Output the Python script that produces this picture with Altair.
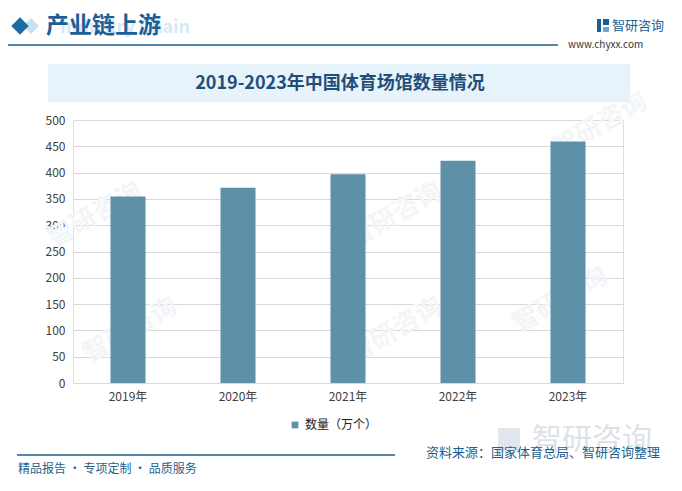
import altair as alt
import pandas as pd

# ---- data ----
years = ["2019年", "2020年", "2021年", "2022年", "2023年"]
values = [354.4, 371.3, 397.1, 422.7, 459.3]
series_name = "数量（万个）"
y_ticks = [0, 50, 100, 150, 200, 250, 300, 350, 400, 450, 500]

title_text = "2019-2023年中国体育场馆数量情况"
header_text = "产业链上游"
header_en = "Industry Chain"
source_text = "资料来源：国家体育总局、智研咨询整理"
footer_text = "精品报告 · 专项定制 · 品质服务"
brand = "智研咨询"
site = "www.chyxx.com"

df = pd.DataFrame({"year": years, "value": values, "series": [series_name] * len(years)})

FONT = "Noto Sans CJK SC"
BAR = "#5e90a8"
DARK = "#1f5f8f"
OX, OY = 73, 120  # plot origin on page
W, H = 550, 263

one = alt.Data(values=[{}])


def px(x):
    return alt.value(x - OX)


def py(y):
    return alt.value(y - OY)


def txt(s, x, y, size, color, weight="normal", align="left", baseline="middle", angle=0, font=FONT):
    return alt.Chart(one).mark_text(
        text=s, fontSize=size, color=color, fontWeight=weight, align=align,
        baseline=baseline, angle=angle, font=font
    ).encode(x=px(x), y=py(y))


def rect(x1, x2, y1, y2, color):
    return alt.Chart(one).mark_rect(color=color).encode(x=px(x1), x2=px(x2), y=py(y1), y2=py(y2))


def hline(x1, x2, y, color, w=1.5):
    return alt.Chart(one).mark_rule(color=color, strokeWidth=w).encode(x=px(x1), x2=px(x2), y=py(y))


layers = []

# faint watermarks
wm_color = "#f3f5f8"
for (wx, wy) in [(95, 215), (395, 215), (600, 125), (395, 330), (560, 300), (130, 330)]:
    layers.append(txt(brand, wx, wy, 26, wm_color, weight="bold", align="center", angle=330))
layers.append(rect(498, 520, 428, 452, "#e1e6ec"))
layers.append(txt(brand, 592, 440, 30, "#dde2e8", align="center"))

# header
layers.append(txt(header_en, 60, 28, 18, "#d6e9f6", weight="bold"))
layers.append(alt.Chart(one).mark_point(shape="diamond", filled=True, size=260, color="#c9e1f2", opacity=1).encode(x=px(31), y=py(26)))
layers.append(alt.Chart(one).mark_point(shape="diamond", filled=True, size=300, color="#1c6aa6", opacity=1).encode(x=px(20), y=py(26)))
layers.append(txt(header_text, 46, 26, 23, "#1c5f96", weight="bold"))
layers.append(hline(2, 558, 45, DARK, 1.5))
layers.append(rect(597, 601, 19, 32, "#1c5f96"))
layers.append(rect(603, 609, 19, 25, "#1c5f96"))
layers.append(rect(603, 609, 27, 32, "#6aa7d6"))
layers.append(txt(brand, 612, 26, 13, "#1c5f96"))
layers.append(txt(site, 568, 45, 10, "#333333"))

# title band
layers.append(rect(48, 630, 64, 102, "#e6f3fb"))
layers.append(txt(title_text, 340, 84, 18, "#1f4e79", weight="bold", align="center"))

# footer
layers.append(hline(17, 395, 455, DARK, 1.5))
layers.append(txt(footer_text, 18, 469, 12, DARK))
layers.append(txt(source_text, 660, 453, 13, DARK, align="right"))

bars = alt.Chart(df).mark_bar(size=35).encode(
    x=alt.X("year:N", sort=years, title=None,
            scale=alt.Scale(paddingInner=0.68, paddingOuter=0.34),
            axis=alt.Axis(labelAngle=0, labelFontSize=12, labelColor="#404040", labelFont=FONT,
                          domainColor="#d9d9d9", ticks=False, labelPadding=8)),
    y=alt.Y("value:Q", title=None, scale=alt.Scale(domain=[0, 500], nice=False),
            axis=alt.Axis(values=y_ticks, labelFontSize=12, labelColor="#404040", labelFont=FONT,
                          domain=False, ticks=False, gridColor="#d9d9d9", labelPadding=8)),
    color=alt.Color("series:N", scale=alt.Scale(range=[BAR]),
                    legend=alt.Legend(title=None, orient="none", legendX=216, legendY=299,
                                      symbolType="square", symbolSize=45, labelFontSize=12,
                                      labelColor="#222222", labelFont=FONT, symbolStrokeWidth=0)),
)

chart = alt.layer(*layers, bars).properties(
    width=W, height=H,
    autosize=alt.AutoSizeParams(type="none"),
    padding={"left": OX - 8, "top": OY - 8, "right": 682 - 16 - (OX - 8) - W, "bottom": 491 - 16 - (OY - 8) - H},
).configure_view(stroke=None).configure(background="white")

chart.save("out.html", embed_options={"renderer": "svg", "actions": False})
